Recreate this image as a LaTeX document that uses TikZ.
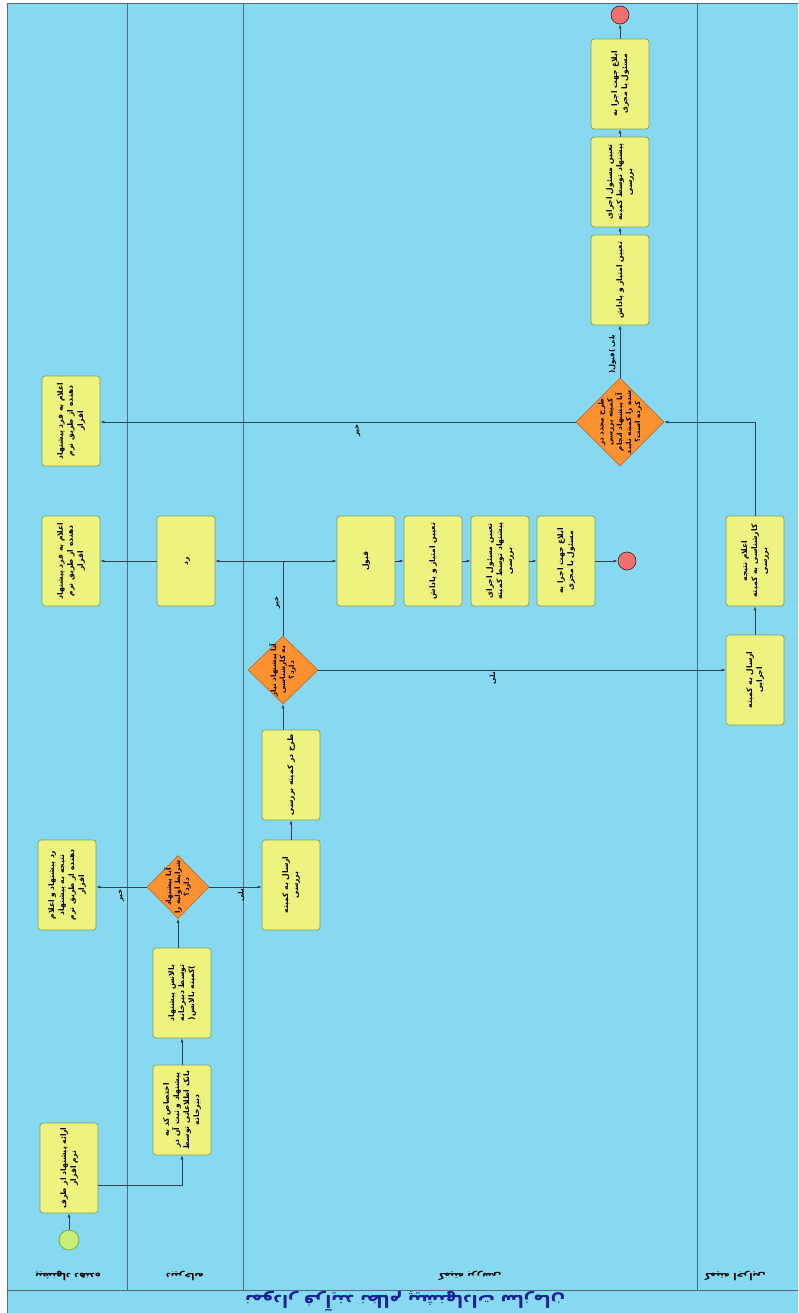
\documentclass[tikz,border=0pt]{standalone}
\usepackage{fontspec}
\usepackage{graphicx}
\newfontfamily\fafont[Script=Arabic]{DejaVu Sans}
\TeXXeTstate=1
\usetikzlibrary{arrows.meta,shapes.geometric}
\definecolor{poolbg}{RGB}{135,217,242}
\definecolor{laneline}{RGB}{85,105,125}
\definecolor{taskfill}{RGB}{238,242,126}
\definecolor{taskline}{RGB}{125,160,95}
\definecolor{gatefill}{RGB}{255,146,48}
\definecolor{gateline}{RGB}{185,110,45}
\definecolor{flowline}{RGB}{45,65,85}
\definecolor{startfill}{RGB}{198,240,120}
\definecolor{startline}{RGB}{115,165,60}
\definecolor{stopfill}{RGB}{240,112,112}
\definecolor{stopline}{RGB}{80,40,40}
\definecolor{titleblue}{RGB}{25,35,150}
\newcommand{\fa}[1]{\beginR#1\endR}
\newcommand{\vtxt}[1]{\rotatebox{90}{\begin{tabular}{@{}c@{}}#1\end{tabular}}}

\begin{document}
\begin{tikzpicture}[x=1pt,y=-1pt,line cap=round,line join=round,
    task/.style={draw=taskline,fill=taskfill,rounded corners=3pt,line width=.7pt,
      minimum width=58pt,minimum height=90pt,inner sep=1pt,
      font=\fafont\bfseries\fontsize{7.6}{10}\selectfont},
    gate/.style={diamond,draw=gateline,fill=gatefill,line width=.7pt,inner sep=0pt},
    gtext/.style={inner sep=0pt,font=\fafont\bfseries\fontsize{7.2}{9}\selectfont},
    flow/.style={draw=flowline,line width=.6pt,-{Latex[length=4pt,width=3pt]}},
    elabel/.style={inner sep=1pt,font=\fafont\bfseries\fontsize{7}{8}\selectfont},
    lanelabel/.style={rotate=180,font=\fafont\bfseries\fontsize{9.5}{11}\selectfont},
    event/.style={circle,line width=.7pt,inner sep=0pt}]
    \useasboundingbox (0,0) rectangle (798,1313);

    % Pool and lanes.
    \fill[white] (0,0) rectangle (798,1313);
    \fill[poolbg] (7,3) rectangle (798,1313);
    \draw[laneline,line width=.6pt] (7,1313) -- (7,3) -- (798,3);
    \foreach \x in {127,243,697}
      \draw[laneline,line width=.6pt] (\x,3) -- (\x,1290);
    \draw[laneline,line width=.6pt] (7,1290) -- (798,1290);
    \node[lanelabel] (lane1) at (68,1276) {\fa{پیشنهاد دهنده}};
    \node[lanelabel] (lane2) at (185,1276) {\fa{دبیرخانه}};
    \node[lanelabel] (lane3) at (470,1276) {\fa{کمیته بررسی}};
    \node[lanelabel,anchor=east] (lane4) at (701,1276) {\fa{کمیته اجرایی}};
    \node[rotate=180,text=titleblue,font=\fafont\bfseries\fontsize{17}{19}\selectfont]
      (title) at (405,1302) {\fa{نمودار فرآیند نظام پیشنهادات سازمان}};

    % Proposer lane.
    \node[event,draw=startline,fill=startfill,minimum size=20pt] (begin) at (69,1240) {};
    \node[task] (offer) at (69,1168) {\vtxt{\fa{ارائه پیشنهاد از طرف}\\\fa{نرم افزار}}};
    \node[task] (rejnote) at (67,885) {\vtxt{\fa{رد پیشنهاد و اعلام}\\\fa{نتیجه به پیشنهاد}\\
      \fa{دهنده از طریق نرم}\\\fa{افزار}}};
    \node[task] (note1) at (71,561) {\vtxt{\fa{اعلام به فرد پیشنهاد}\\\fa{دهنده از طریق نرم}\\\fa{افزار}}};
    \node[task] (note2) at (71,421) {\vtxt{\fa{اعلام به فرد پیشنهاد}\\\fa{دهنده از طریق نرم}\\\fa{افزار}}};

    % Secretariat lane.
    \node[task] (code) at (182,1110) {\vtxt{\fa{اختصاص کد به}\\\fa{پیشنهاد و ثبت آن در}\\
      \fa{بانک اطلاعاتی توسط}\\\fa{دبیرخانه}}};
    \node[task] (balance) at (182,993) {\vtxt{\fa{بالانس پیشنهاد}\\\fa{توسط دبیرخانه}\\
      (\fa{کمیته بالانس})}};
    \node[gate,minimum width=62pt,minimum height=63pt] (qbasic) at (178,887) {};
    \node[gtext] (qbasictxt) at (qbasic) {\vtxt{\fa{آیا پیشنهاد}\\\fa{شرایط اولیه را}\\\fa{دارد؟}}};
    \node[task] (reject) at (186,561) {\vtxt{\fa{رد}}};

    % Review committee lane.
    \node[task] (send) at (291,885) {\vtxt{\fa{ارسال به کمیته}\\\fa{بررسی}}};
    \node[task] (pose) at (291,775) {\vtxt{\fa{طرح در کمیته بررسی}}};
    \node[gate,minimum width=70pt,minimum height=68pt] (qexpert) at (283,670) {};
    \node[gtext] (qexperttxt) at (qexpert) {\vtxt{\fa{آیا پیشنهاد نیاز}\\\fa{به کارشناسی}\\\fa{دارد؟}}};
    \node[task] (accept) at (366,561) {\vtxt{\fa{قبول}}};
    \node[task] (score1) at (433,561) {\vtxt{\fa{تعیین امتیاز و پاداش}}};
    \node[task] (owner1) at (500,561) {\vtxt{\fa{تعیین مسئول اجرای}\\\fa{پیشنهاد توسط کمیته}\\\fa{بررسی}}};
    \node[task] (order1) at (566,561) {\vtxt{\fa{ابلاغ جهت اجرا به}\\\fa{مسئول یا مجری}}};
    \node[event,draw=stopline,fill=stopfill,minimum size=18pt] (stop1) at (627,561) {};
    \node[gate,minimum width=88pt,minimum height=88pt] (qrecheck) at (620,422) {};
    \node[gtext] (qrechecktxt) at (qrecheck) {\vtxt{\fa{طرح مجدد در}\\\fa{کمیته بررسی}\\
      \fa{آیا پیشنهاد انجام}\\\fa{شده را کمیته تایید}\\\fa{کرده است؟}}};
    \node[task] (score2) at (620,280) {\vtxt{\fa{تعیین امتیاز و پاداش}}};
    \node[task] (owner2) at (620,182) {\vtxt{\fa{تعیین مسئول اجرای}\\\fa{پیشنهاد توسط کمیته}\\\fa{بررسی}}};
    \node[task] (order2) at (620,84) {\vtxt{\fa{ابلاغ جهت اجرا به}\\\fa{مسئول یا مجری}}};
    \node[event,draw=stopline,fill=stopfill,minimum size=18pt] (stop2) at (620,15) {};

    % Executive committee lane.
    \node[task] (toexec) at (755,680) {\vtxt{\fa{ارسال به کمیته}\\\fa{اجرایی}}};
    \node[task] (expres) at (755,561) {\vtxt{\fa{اعلام نتیجه}\\\fa{کارشناسی به کمیته}\\\fa{بررسی}}};

    % Sequence flows.
    \draw[flow] (begin) -- (offer);
    \draw[flow] ([yshift=-17pt]offer.east) -| (code);
    \draw[flow] (code) -- (balance);
    \draw[flow] (balance.north -| qbasic.south) -- (qbasic.south);
    \draw[flow] (qbasic.west) -- node[elabel,below=1pt,pos=.52] (qbasicno) {\vtxt{\fa{خیر}}}
      (qbasic.west -| rejnote.east);
    \draw[flow] (qbasic.east) -- node[elabel,below=1pt,pos=.62] (qbasicyes) {\vtxt{\fa{بلی}}}
      (qbasic.east -| send.west);
    \draw[flow] (send) -- (pose);
    \draw[flow] (pose.north -| qexpert.south) -- (qexpert.south);
    \draw[flow] (qexpert.north) |- node[elabel,left=1pt,pos=.22] (qexpertno) {\vtxt{\fa{خیر}}}
      (reject.east);
    \draw[flow] (qexpert.north) |- (accept.west);
    \draw[flow] (reject) -- (note1);
    \draw[flow] (accept) -- (score1);
    \draw[flow] (score1) -- (owner1);
    \draw[flow] (owner1) -- (order1);
    \draw[flow] (order1) -- (stop1);
    \draw[flow] (qexpert.east) -- node[elabel,below=1pt,pos=.43] (qexpertyes) {\vtxt{\fa{بلی}}}
      (qexpert.east -| toexec.west);
    \draw[flow] (toexec) -- (expres);
    \draw[flow] (expres.north) |- (qrecheck.east);
    \draw[flow] (qrecheck.west) -- node[elabel,below=1pt,pos=.46] (qrecheckno) {\vtxt{\fa{خیر}}}
      (qrecheck.west -| note2.east);
    \draw[flow] (qrecheck) -- node[elabel,left=2pt,pos=.45] (qrecheckyes) {\vtxt{(\fa{قبول}) \fa{بلی}}}
      (score2);
    \draw[flow] (score2) -- (owner2);
    \draw[flow] (owner2) -- (order2);
    \draw[flow] (order2) -- (stop2);
  \end{tikzpicture}
\end{document}
